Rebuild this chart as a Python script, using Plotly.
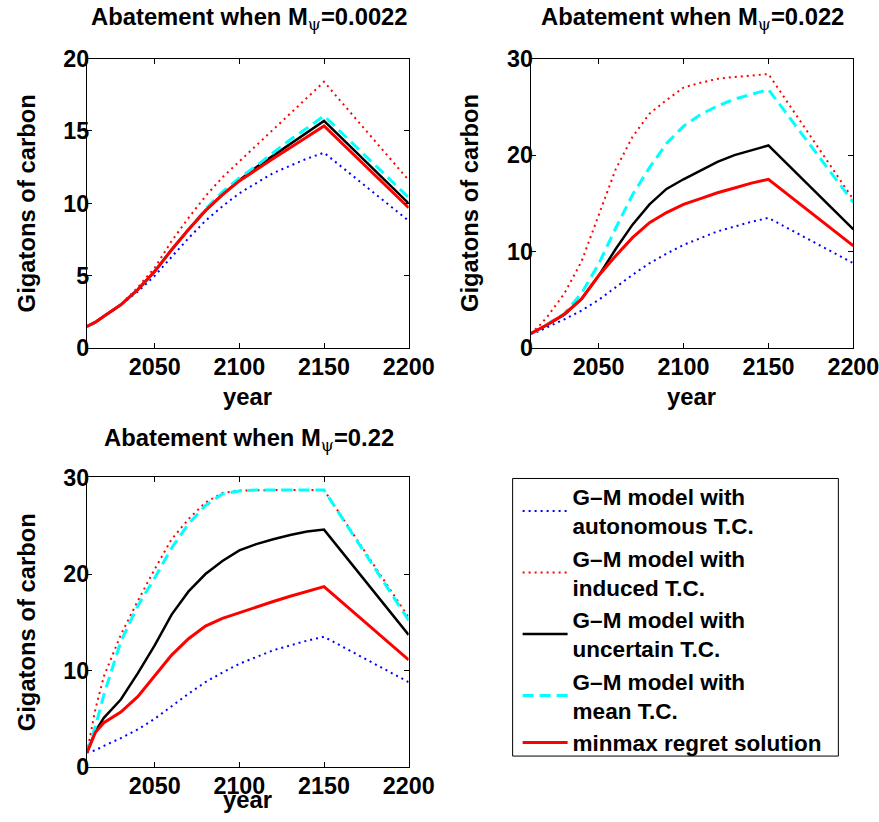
import plotly.graph_objects as go

# ---------------- data ----------------
years = [2010, 2015, 2020, 2030, 2040, 2050, 2060, 2070, 2080, 2090, 2100,
         2110, 2120, 2130, 2140, 2150, 2200]

# G-M model with autonomous T.C. (same in every panel)
autonomous = [1.5, 1.75, 2.2, 3.0, 3.9, 5.0, 6.3, 7.6, 8.8, 9.8, 10.7,
              11.4, 12.1, 12.6, 13.1, 13.5, 8.8]

# Panel 1: M_psi = 0.0022
induced_1 = [1.5, 1.8, 2.2, 3.0, 4.2, 5.55, 7.4, 9.0, 10.5, 11.8, 12.9,
             14.0, 15.1, 16.2, 17.3, 18.4, 11.6]
uncertain_1 = [1.5, 1.8, 2.2, 3.0, 4.05, 5.3, 6.8, 8.2, 9.5, 10.6, 11.6,
               12.5, 13.3, 14.1, 14.9, 15.7, 10.0]
mean_1 = [1.5, 1.8, 2.2, 3.0, 4.05, 5.3, 6.8, 8.2, 9.6, 10.8, 11.75,
          12.6, 13.5, 14.4, 15.2, 16.05, 10.4]
minmax_1 = [1.5, 1.8, 2.2, 3.0, 4.05, 5.3, 6.8, 8.2, 9.5, 10.6, 11.55,
            12.35, 13.1, 13.85, 14.6, 15.35, 9.7]

# Panel 2: M_psi = 0.022
induced_2 = [1.5, 2.3, 3.3, 5.7, 9.0, 13.7, 18.5, 21.9, 24.3, 25.7, 27.0,
             27.5, 27.9, 28.1, 28.25, 28.4, 15.4]
uncertain_2 = [1.5, 1.95, 2.45, 3.5, 5.1, 7.5, 10.25, 12.8, 14.9, 16.5, 17.5,
               18.4, 19.3, 20.0, 20.5, 21.0, 12.3]
mean_2 = [1.5, 1.95, 2.5, 3.6, 5.7, 8.7, 12.4, 15.9, 18.7, 21.2, 23.0,
          24.2, 25.1, 25.8, 26.3, 26.8, 15.1]
minmax_2 = [1.5, 1.95, 2.45, 3.55, 5.1, 7.5, 9.55, 11.45, 13.0, 14.05, 14.9,
            15.5, 16.1, 16.6, 17.1, 17.5, 10.6]

# Panel 3: M_psi = 0.22
induced_3 = [1.5, 6.0, 9.4, 13.7, 17.2, 20.5, 23.6, 25.7, 27.4, 28.4, 28.65,
             28.7, 28.7, 28.7, 28.7, 28.7, 15.5]
uncertain_3 = [1.5, 3.7, 5.1, 7.0, 9.7, 12.6, 15.8, 18.2, 20.0, 21.35, 22.45,
               23.1, 23.6, 24.05, 24.4, 24.6, 13.7]
mean_3 = [1.5, 4.2, 7.5, 13.0, 16.7, 19.6, 22.7, 25.2, 27.1, 28.3, 28.6,
          28.7, 28.7, 28.7, 28.7, 28.7, 15.2]
minmax_3 = [1.5, 3.6, 4.6, 5.7, 7.3, 9.4, 11.6, 13.3, 14.6, 15.4, 16.0,
            16.6, 17.15, 17.7, 18.2, 18.7, 11.1]

series_names = [
    "G\u2013M model with<br>autonomous T.C.",
    "G\u2013M model with<br>induced T.C.",
    "G\u2013M model with<br>uncertain T.C.",
    "G\u2013M model with<br>mean T.C.",
    "minmax regret solution",
]
panel_titles = ["0.0022", "0.022", "0.22"]
x_ticks = [2050, 2100, 2150, 2200]
y_ticks_small = [0, 5, 10, 15, 20]
y_ticks_large = [0, 10, 20, 30]

# ---------------- layout helpers ----------------
FW, FH = 905, 840
FONT = "Liberation Sans, Arial, Helvetica, sans-serif"
SX, OX = 0.972, -1.0     # observed page -> picture mapping (horizontal)
SY, OY = 0.967, 12.5     # observed page -> picture mapping (vertical)


def page_x(r):
    return (r - OX) / SX


def page_y(r):
    return (r - OY) / SY


def paper_x(r):
    return page_x(r) / FW


def paper_y(r):
    return 1 - page_y(r) / FH


styles = [
    dict(color="#0000FF", width=2, dash="2px,4px"),
    dict(color="#FF0000", width=2, dash="2px,4px"),
    dict(color="#000000", width=2.5),
    dict(color="#00FFFF", width=3, dash="11px,6px"),
    dict(color="#FF0000", width=3),
]

panels = [
    (autonomous, induced_1, uncertain_1, mean_1, minmax_1),
    (autonomous, induced_2, uncertain_2, mean_2, minmax_2),
    (autonomous, induced_3, uncertain_3, mean_3, minmax_3),
]

fig = go.Figure()
for p, data in enumerate(panels):
    suffix = "" if p == 0 else str(p + 1)
    for i, vals in enumerate(data):
        fig.add_trace(go.Scatter(
            x=years, y=vals, mode="lines", line=styles[i],
            name=series_names[i], showlegend=(p == 0),
            xaxis="x" + suffix, yaxis="y" + suffix, hoverinfo="skip"))

axis_common = dict(
    showline=True, linecolor="black", linewidth=1, mirror="allticks",
    ticks="inside", ticklen=5, tickwidth=1, tickcolor="black",
    showgrid=False, zeroline=False,
    tickfont=dict(family=FONT, size=23.3, color="black", weight="bold"),
)

# panel boxes in reference pixels: (left, right, top, bottom)
boxes = [(86, 408, 58, 347), (530, 853, 58, 347), (86, 408, 476, 765)]
y_ranges = [[0, 20], [0, 30], [0, 30]]
y_tickvals = [y_ticks_small, y_ticks_large, y_ticks_large]

layout_axes = {}
for p, (l, r, t, b) in enumerate(boxes):
    suffix = "" if p == 0 else str(p + 1)
    layout_axes["xaxis" + suffix] = dict(
        axis_common, domain=[paper_x(l), paper_x(r)], anchor="y" + suffix,
        range=[2010, 2200], tickvals=x_ticks, ticklabelstandoff=-2)
    layout_axes["yaxis" + suffix] = dict(
        axis_common, domain=[paper_y(b), paper_y(t)], anchor="x" + suffix,
        range=y_ranges[p], tickvals=y_tickvals[p], ticklabelstandoff=-8)

annotations = []
title_font = dict(family=FONT, size=23.8, color="black", weight="bold")
title_centers = [(248.5, 18), (692.5, 18), (248.5, 438)]
year_centers = [395, 395, 797]
for p, (l, r, t, b) in enumerate(boxes):
    tx, ty = title_centers[p]
    annotations.append(dict(
        text="Abatement when M<sub><span style='font-family:DejaVu Serif;font-weight:normal'>\u03c8</span></sub>=" + panel_titles[p],
        x=paper_x(tx), y=1 - (page_y(ty) - 18) / FH,
        xref="paper", yref="paper",
        xanchor="center", yanchor="top", showarrow=False, font=title_font))
    annotations.append(dict(
        text="year", x=paper_x((l + r) / 2), y=paper_y(year_centers[p]),
        xref="paper", yref="paper", xanchor="center", yanchor="middle",
        showarrow=False, font=title_font))
    annotations.append(dict(
        text="Gigatons of carbon", x=paper_x(l - 61), y=paper_y((t + b) / 2),
        xref="paper", yref="paper", xanchor="center", yanchor="middle",
        textangle=-90, showarrow=False, font=title_font))

# legend frame
shapes = [dict(type="rect", xref="paper", yref="paper",
               x0=paper_x(512), x1=paper_x(838),
               y0=paper_y(754), y1=paper_y(477),
               line=dict(color="black", width=1), fillcolor="rgba(0,0,0,0)")]

fig.update_layout(
    width=FW, height=FH,
    margin=dict(l=0, r=0, t=0, b=0),
    paper_bgcolor="white", plot_bgcolor="white",
    showlegend=True,
    legend=dict(
        x=paper_x(517), y=1 - (page_y(497) - 24) / FH,
        xanchor="left", yanchor="top",
        borderwidth=0, bgcolor="rgba(0,0,0,0)",
        font=dict(family=FONT, size=22.5, color="black", weight="bold"),
        tracegroupgap=0, itemwidth=45, valign="middle"),
    annotations=annotations,
    shapes=shapes,
    **layout_axes,
)

fig.write_html(
    "out.html",
    config={"displayModeBar": False, "staticPlot": True},
    post_script="document.body.style.margin='0px';"
                "document.documentElement.style.overflow='hidden';",
)
